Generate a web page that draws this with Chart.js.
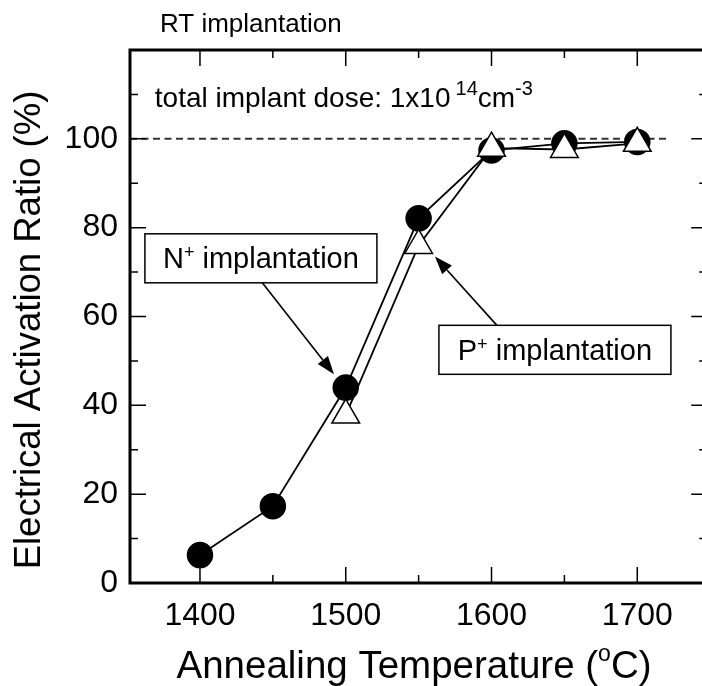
<!DOCTYPE html>
<html>
<head>
<meta charset="utf-8">
<script src="https://cdn.jsdelivr.net/npm/chart.js@4/dist/chart.umd.min.js"></script>
<style>
  html, body { margin: 0; padding: 0; background: #fff; overflow: hidden; }
</style>
</head>
<body>
<canvas id="c" width="702" height="686"></canvas>
<script>
// ---- data ----
const nTemps = [1400, 1450, 1500, 1550, 1600, 1650, 1700];
const nRatio = [6.3, 17.3, 44.0, 82.1, 97.4, 99.0, 99.3];
const pTemps = [1500, 1550, 1600, 1650, 1700];
const pRatio = [37.8, 76.0, 97.9, 97.6, 99.0];

const xLabels = [1400, 1500, 1600, 1700];
const xMinorTicks = [1450, 1550, 1650];
const yLabels = [0, 20, 40, 60, 80, 100];
const yMajorTicks = [20, 40, 60, 80, 100];
const yMinorTicks = [10, 30, 50, 70, 90, 110];
const refLevel = 100;
const xAxisEnd = 1748;   // right frame of the plot (just outside the picture)

const titleText = 'RT implantation';
const xTitle = 'Annealing Temperature (';
const xTitleSup = 'o';
const xTitleEnd = 'C)';
const yTitle = 'Electrical Activation Ratio (%)';
const doseText = ['total implant dose: 1x10', '14', 'cm', '-3'];
const nLabel = ['N', '+', ' implantation'];
const pLabel = ['P', '+', ' implantation'];

const FONT = '"Liberation Sans", Arial, Helvetica, sans-serif';

const overlay = {
  id: 'overlay',
  beforeDatasetsDraw(chart) {
    const { ctx, scales: { x, y } } = chart;
    const yy = y.getPixelForValue(refLevel);
    ctx.save();
    ctx.strokeStyle = '#333';
    ctx.lineWidth = 2;
    ctx.setLineDash([7, 4.5]);
    ctx.beginPath();
    ctx.moveTo(x.getPixelForValue(x.min), yy);
    ctx.lineTo(x.getPixelForValue(1720), yy);
    ctx.stroke();
    ctx.restore();
  },
  afterDatasetsDraw(chart) {
    const { ctx, chartArea: a, scales: { x, y } } = chart;
    const rightX = x.getPixelForValue(xAxisEnd);
    ctx.save();
    ctx.strokeStyle = '#000';
    ctx.lineWidth = 3;
    ctx.beginPath();
    ctx.moveTo(rightX, a.top); ctx.lineTo(a.left, a.top);
    ctx.lineTo(a.left, a.bottom); ctx.lineTo(rightX, a.bottom);
    ctx.stroke();
    ctx.lineWidth = 1.5;
    const MAJ = 16, MIN = 8;
    ctx.beginPath();
    const xt = (v, len) => {
      const px = x.getPixelForValue(v);
      ctx.moveTo(px, a.bottom); ctx.lineTo(px, a.bottom - len);
      ctx.moveTo(px, a.top); ctx.lineTo(px, a.top + len);
    };
    const yt = (v, len) => {
      const py = y.getPixelForValue(v);
      ctx.moveTo(a.left, py); ctx.lineTo(a.left + len, py);
      ctx.moveTo(rightX, py); ctx.lineTo(rightX - len, py);
    };
    xLabels.forEach(v => xt(v, MAJ));
    xMinorTicks.forEach(v => xt(v, MIN));
    yMajorTicks.forEach(v => yt(v, MAJ));
    yMinorTicks.forEach(v => yt(v, MIN));
    ctx.stroke();

    ctx.fillStyle = '#000';
    ctx.textBaseline = 'alphabetic';

    ctx.font = '26px ' + FONT;
    ctx.textAlign = 'left';
    ctx.fillText(titleText, 160, 32);

    let dx = x.getPixelForValue(1369), dy = y.getPixelForValue(107.1);
    ctx.font = '28px ' + FONT;
    ctx.fillText(doseText[0], dx, dy); dx += ctx.measureText(doseText[0]).width + 5;
    ctx.font = '20px ' + FONT;
    ctx.fillText(doseText[1], dx, dy - 12); dx += ctx.measureText(doseText[1]).width;
    ctx.font = '28px ' + FONT;
    ctx.fillText(doseText[2], dx, dy); dx += ctx.measureText(doseText[2]).width;
    ctx.font = '20px ' + FONT;
    ctx.fillText(doseText[3], dx, dy - 12);

    const box = (parts, cxv, cyv) => {
      const cx = x.getPixelForValue(cxv), cy = y.getPixelForValue(cyv);
      const w = 232, h = 49;
      ctx.fillStyle = '#fff';
      ctx.fillRect(cx - w / 2, cy - h / 2, w, h);
      ctx.strokeStyle = '#000';
      ctx.lineWidth = 1.5;
      ctx.strokeRect(cx - w / 2, cy - h / 2, w, h);
      ctx.fillStyle = '#000';
      ctx.font = '29px ' + FONT;
      const w0 = ctx.measureText(parts[0]).width;
      const w2 = ctx.measureText(parts[2]).width;
      ctx.font = '18px ' + FONT;
      const w1 = ctx.measureText(parts[1]).width;
      let tx = cx - (w0 + w1 + w2) / 2;
      const base = cy + 10;
      ctx.font = '29px ' + FONT;
      ctx.fillText(parts[0], tx, base); tx += w0;
      ctx.font = '18px ' + FONT;
      ctx.fillText(parts[1], tx, base - 10); tx += w1;
      ctx.font = '29px ' + FONT;
      ctx.fillText(parts[2], tx, base);
    };
    const arrow = (x0v, y0v, x1v, y1v) => {
      const x0 = x.getPixelForValue(x0v), y0 = y.getPixelForValue(y0v);
      const x1 = x.getPixelForValue(x1v), y1 = y.getPixelForValue(y1v);
      const ang = Math.atan2(y1 - y0, x1 - x0);
      const hl = 18, hw = 6.5;
      const bx = x1 - hl * Math.cos(ang), by = y1 - hl * Math.sin(ang);
      ctx.strokeStyle = '#000';
      ctx.lineWidth = 1.6;
      ctx.beginPath();
      ctx.moveTo(x0, y0); ctx.lineTo(bx, by);
      ctx.stroke();
      ctx.beginPath();
      ctx.moveTo(x1, y1);
      ctx.lineTo(bx + hw * Math.sin(ang), by - hw * Math.cos(ang));
      ctx.lineTo(bx - hw * Math.sin(ang), by + hw * Math.cos(ang));
      ctx.closePath();
      ctx.fillStyle = '#000';
      ctx.fill();
    };
    arrow(1442.5, 67.7, 1491.9, 47.0);
    arrow(1603.7, 58.0, 1561.2, 73.5);
    box(nLabel, 1441.8, 73.1);
    box(pLabel, 1643.5, 52.5);

    ctx.fillStyle = '#000';
    ctx.font = '38.5px ' + FONT;
    const wA = ctx.measureText(xTitle).width;
    const wC = ctx.measureText(xTitleEnd).width;
    ctx.font = '23px ' + FONT;
    const wB = ctx.measureText(xTitleSup).width;
    let tx = 414 - (wA + wB + wC) / 2;
    ctx.font = '38.5px ' + FONT;
    ctx.fillText(xTitle, tx, 678); tx += wA;
    ctx.font = '23px ' + FONT;
    ctx.fillText(xTitleSup, tx, 661); tx += wB;
    ctx.font = '38.5px ' + FONT;
    ctx.fillText(xTitleEnd, tx, 678);

    ctx.save();
    ctx.translate(40, 330);
    ctx.rotate(-Math.PI / 2);
    ctx.font = '36.5px ' + FONT;
    ctx.textAlign = 'center';
    ctx.fillText(yTitle, 0, 0);
    ctx.restore();

    ctx.restore();
  }
};

new Chart(document.getElementById('c'), {
  type: 'line',
  data: {
    datasets: [
      {
        label: 'P+ implantation',
        data: pTemps.map((t, i) => ({ x: t, y: pRatio[i] })),
        pointStyle: 'triangle',
        pointRadius: 16,
        pointBackgroundColor: '#fff',
        pointBorderColor: '#000',
        pointBorderWidth: 1.5,
        borderColor: '#000',
        borderWidth: 1.8,
        fill: false,
        order: 0
      },
      {
        label: 'N+ implantation',
        data: nTemps.map((t, i) => ({ x: t, y: nRatio[i] })),
        pointStyle: 'circle',
        pointRadius: 12.5,
        pointBackgroundColor: '#000',
        pointBorderColor: '#000',
        pointBorderWidth: 1.5,
        borderColor: '#000',
        borderWidth: 1.8,
        fill: false,
        order: 1
      }
    ]
  },
  options: {
    responsive: false,
    animation: false,
    devicePixelRatio: 1,
    layout: { autoPadding: false, padding: { top: 50, right: 0, left: 0, bottom: 0 } },
    plugins: { legend: { display: false }, tooltip: { enabled: false }, title: { display: false } },
    scales: {
      x: {
        type: 'linear',
        position: 'bottom',
        min: 1352,
        max: 1744.4,
        afterBuildTicks: s => { s.ticks = xLabels.map(v => ({ value: v })); },
        afterFit: s => { s.height = 103; },
        ticks: { font: { family: FONT, size: 32 }, color: '#000', padding: 14, maxRotation: 0, autoSkip: false, callback: v => String(v) },
        grid: { display: false, drawTicks: false },
        border: { display: false }
      },
      y: {
        type: 'linear',
        position: 'left',
        min: 0,
        max: 120,
        afterBuildTicks: s => { s.ticks = yLabels.map(v => ({ value: v })); },
        afterFit: s => { s.width = 130; },
        ticks: { font: { family: FONT, size: 32 }, color: '#000', padding: 12, autoSkip: false, callback: v => String(v) },
        grid: { display: false, drawTicks: false },
        border: { display: false }
      }
    }
  },
  plugins: [overlay]
});
</script>
</body>
</html>
